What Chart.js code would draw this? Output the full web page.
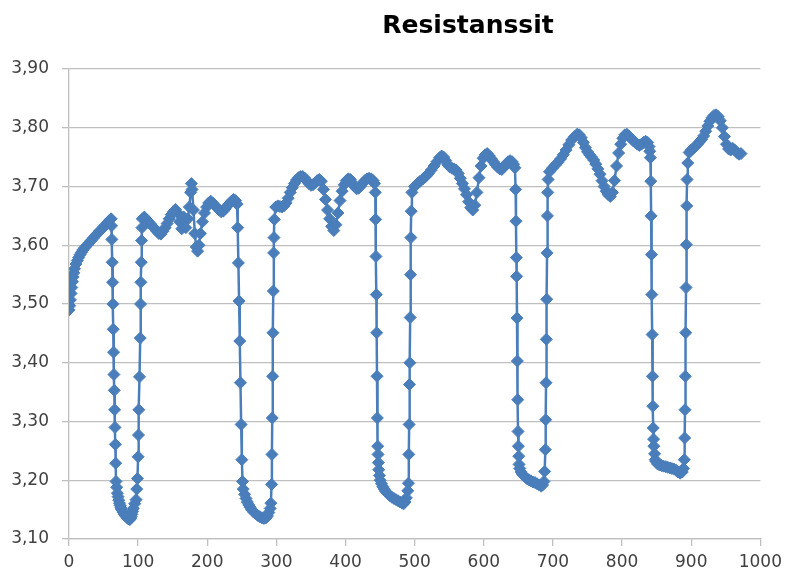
<!DOCTYPE html>
<html>
<head>
<meta charset="utf-8">
<title>Resistanssit</title>
<script src="https://cdn.jsdelivr.net/npm/chart.js@4.4.1/dist/chart.umd.min.js"></script>
<style>
  html, body { margin: 0; padding: 0; background: #fff; }
  #wrap { position: relative; width: 788px; height: 577px; }
  #title {
    position: absolute; left: 468px; top: 12px; transform: translateX(-50%);
    font: bold 25px "DejaVu Sans", sans-serif; line-height: 25px; color: #000; white-space: nowrap;
  }
</style>
</head>
<body>
<div id="wrap">
  <canvas id="chart" width="788" height="577"></canvas>
  <div id="title">Resistanssit</div>
</div>
<script>
// sample position (x) and measured resistance (y), one line per stretch of the curve
const sampleX = [
  0,1,2,3,4,5,6,7,8,10,12,14,16,18,20,23,26,29,32,35,38,41,44,47,50,53,56,59,
  61,61.5,62,62.5,63,63.5,64,64.5,65,65.5,66,66.5,67,67.5,68,69,70,
  71,72,73,74,75,76,78,80,82,84,86,88,89,90,91,92,93,95,97,
  98,99,100,100.5,101,102,103,103.5,104,104.5,105,105.5,
  106,109,112,115,118,121,124,127,130,133,136,139,142,145,148,151,154,157,160,163,166,169,172,174,176,177,178,180,182,184,186,188,190,193,196,199,202,205,208,211,214,217,220,223,226,229,232,235,238,241,
  243,244,245,246,247,248,249,250,251,252,
  254,256,258,260,262,264,267,270,273,276,279,282,285,287,289,291,
  292,293,293.5,294,294.5,295,295.5,296,296.5,297,
  299,302,305,308,311,314,317,320,323,326,329,332,335,338,341,344,347,350,353,356,359,362,365,368,371,374,377,380,383,386,389,392,395,398,401,404,407,410,413,416,419,422,425,428,431,434,437,440,442,
  443,443.5,444,444.5,445,445.5,446,446.5,447,447.5,448,449,450,
  452,454,456,458,461,464,467,470,473,476,479,482,484,486,488,490,
  491,491.5,492,492.5,493,493.5,494,494.5,495,
  496,500,504,508,512,516,520,524,528,532,536,539,542,545,548,551,554,557,560,563,566,569,572,575,578,581,584,587,590,593,596,599,602,605,608,611,614,617,620,623,626,629,632,635,638,641,643,
  645,646,646.5,647,647.5,648,648.5,649,649.5,650,650.5,651,
  652,654,656,659,662,665,668,671,674,677,680,683,685,687,
  688,689,689.5,690,690.5,691,691.5,692,692.5,693,
  695,699,703,707,711,715,719,723,727,731,735,738,741,744,747,750,753,756,759,762,765,768,771,774,777,780,783,786,789,792,795,798,801,804,807,810,813,816,819,822,825,828,831,834,837,839,
  840,841,841.5,842,842.5,843,843.5,844,844.5,845,845.5,846,847,848,
  849,851,854,857,860,863,866,869,872,875,878,881,884,887,889,
  890,890.5,891,891.5,892,892.5,893,893.5,894,895,
  897,900,903,906,909,912,915,918,921,924,927,930,933,936,939,942,945,948,951,954,957,960,963,966,969,972
];

const resistance = [
  3.490,3.497,3.507,3.518,3.528,3.538,3.546,3.553,3.560,3.568,3.574,3.579,3.584,3.588,3.592,3.596,3.600,3.604,3.608,3.612,3.616,3.620,3.624,3.627,3.631,3.635,3.639,3.643,
  3.645,3.633,3.610,3.571,3.537,3.500,3.457,3.418,3.380,3.353,3.320,3.290,3.261,3.229,3.198,3.188,3.178,
  3.172,3.166,3.161,3.157,3.153,3.150,3.146,3.142,3.139,3.136,3.134,3.133,3.135,3.138,3.142,3.147,3.152,3.160,3.167,
  3.185,3.203,3.240,3.277,3.320,3.376,3.442,3.500,3.537,3.571,3.608,3.630,
  3.645,3.648,3.644,3.640,3.636,3.632,3.628,3.624,3.620,3.619,3.624,3.630,3.637,3.645,3.652,3.657,3.661,3.655,3.640,3.628,3.648,3.630,3.645,3.665,3.690,3.705,3.695,3.660,3.620,3.597,3.590,3.600,3.620,3.640,3.655,3.665,3.672,3.675,3.672,3.668,3.664,3.660,3.657,3.658,3.662,3.667,3.671,3.675,3.678,3.676,
  3.670,3.630,3.570,3.505,3.437,3.366,3.295,3.235,3.198,3.185,
  3.176,3.169,3.163,3.158,3.154,3.150,3.146,3.143,3.140,3.138,3.136,3.135,3.136,3.139,3.145,3.152,
  3.161,3.193,3.244,3.306,3.377,3.451,3.522,3.587,3.613,3.644,
  3.665,3.667,3.666,3.665,3.667,3.672,3.680,3.690,3.698,3.705,3.711,3.715,3.717,3.717,3.714,3.710,3.705,3.702,3.703,3.706,3.710,3.712,3.709,3.695,3.678,3.660,3.645,3.632,3.625,3.635,3.655,3.676,3.692,3.703,3.710,3.713,3.712,3.706,3.700,3.696,3.697,3.701,3.706,3.710,3.713,3.714,3.713,3.710,3.705,
  3.690,3.644,3.581,3.516,3.451,3.377,3.306,3.258,3.244,3.230,3.218,3.208,3.200,
  3.194,3.189,3.185,3.181,3.177,3.174,3.171,3.169,3.167,3.165,3.163,3.161,3.160,3.163,3.170,3.182,
  3.195,3.244,3.295,3.363,3.400,3.477,3.550,3.613,3.658,
  3.690,3.700,3.705,3.709,3.713,3.717,3.722,3.728,3.735,3.742,3.749,3.752,3.750,3.744,3.737,3.733,3.731,3.730,3.728,3.722,3.714,3.705,3.696,3.686,3.674,3.664,3.660,3.668,3.690,3.715,3.735,3.748,3.754,3.756,3.752,3.747,3.742,3.737,3.733,3.730,3.729,3.733,3.738,3.742,3.744,3.742,3.738,
  3.732,3.695,3.641,3.579,3.547,3.476,3.403,3.337,3.283,3.258,3.241,3.227,
  3.220,3.214,3.210,3.206,3.203,3.201,3.199,3.197,3.196,3.194,3.192,3.190,3.192,3.198,
  3.215,3.252,3.303,3.366,3.440,3.508,3.587,3.650,3.690,3.712,
  3.725,3.731,3.736,3.741,3.747,3.754,3.762,3.771,3.779,3.785,3.789,3.788,3.783,3.775,3.766,3.759,3.754,3.750,3.745,3.738,3.730,3.721,3.710,3.700,3.692,3.686,3.683,3.690,3.710,3.735,3.757,3.772,3.782,3.788,3.789,3.786,3.782,3.778,3.775,3.772,3.770,3.772,3.775,3.777,3.775,3.768,
  3.760,3.749,3.709,3.650,3.584,3.516,3.448,3.377,3.326,3.289,3.270,3.258,3.245,3.235,
  3.232,3.228,3.226,3.225,3.224,3.223,3.222,3.221,3.220,3.219,3.217,3.214,3.212,3.214,3.220,
  3.235,3.272,3.320,3.377,3.451,3.528,3.601,3.667,3.712,3.740,
  3.758,3.762,3.765,3.768,3.772,3.776,3.780,3.786,3.794,3.803,3.811,3.817,3.821,3.822,3.819,3.812,3.800,3.785,3.772,3.764,3.762,3.765,3.762,3.758,3.755,3.756
];

const xTicks = { min: 0, max: 1000, step: 100 };
const yTicks = { min: 3.1, max: 3.9, step: 0.1 };

if (sampleX.length !== resistance.length) {
    console.log("length mismatch", sampleX.length, resistance.length);
}

const blue = '#4a7ebb';
const gridColor = '#bfbfbf';
const tickFont = { family: 'DejaVu Sans', size: 17 };

const points = sampleX.map((x, i) => ({ x: x, y: resistance[i] }));

new Chart("chart", {
    type: 'scatter',
    data: {
        datasets: [{
            label: 'Resistanssit',
            data: points,
            showLine: true,
            borderColor: blue,
            backgroundColor: blue,
            borderWidth: 2.5,
            pointStyle: 'rectRot',
            pointRadius: 6,
            pointHoverRadius: 6,
            pointBorderWidth: 1,
            pointBorderColor: blue,
            pointBackgroundColor: blue
        }]
    },
    options: {
        responsive: false,
        animation: false,
        layout: { padding: { top: 69, right: 24, left: 0, bottom: 0 } },
        plugins: {
            legend: { display: false },
            tooltip: { enabled: false }
        },
        scales: {
            x: {
                type: 'linear',
                min: xTicks.min,
                max: xTicks.max,
                ticks: {
                    stepSize: xTicks.step,
                    color: '#404040',
                    font: tickFont,
                    padding: 6,
                    maxRotation: 0,
                    callback: function(value) { return String(value); }
                },
                grid: { drawOnChartArea: false, drawTicks: true, tickLength: 7, color: gridColor, lineWidth: 1.3 },
                border: { color: gridColor, width: 1.3 },
                afterFit: function(scale) { scale.height = 38; }
            },
            y: {
                type: 'linear',
                min: yTicks.min,
                max: yTicks.max,
                ticks: {
                    stepSize: yTicks.step,
                    color: '#404040',
                    font: tickFont,
                    padding: 13,
                    callback: function(value) {
                        return value.toFixed(2).replace('.', ',');
                    }
                },
                grid: { color: gridColor, lineWidth: 1.3, tickLength: 7 },
                border: { color: gridColor, width: 1.3 },
                afterFit: function(scale) { scale.width = 69; }
            }
        }
    }
});
</script>
</body>
</html>
